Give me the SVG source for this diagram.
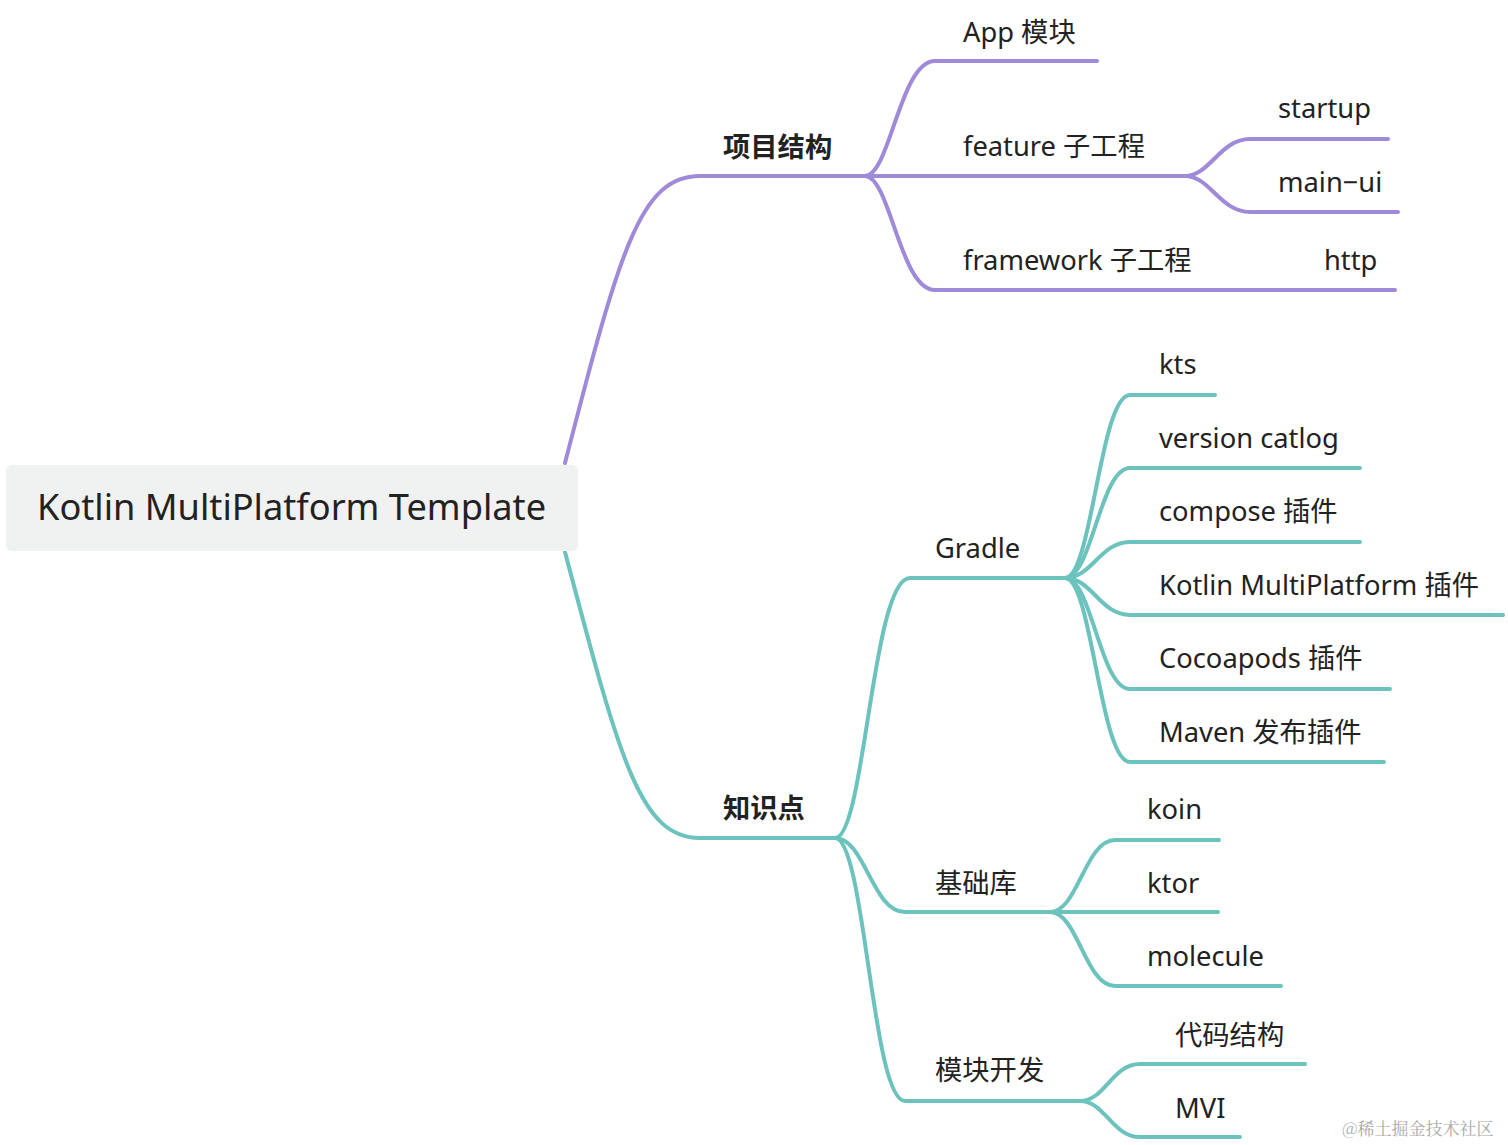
<svg xmlns="http://www.w3.org/2000/svg" width="1508" height="1145" viewBox="0 0 1508 1145">
<style>
.p{fill:none;stroke:#9f8ad9;stroke-width:4;stroke-linecap:round}
.t{fill:none;stroke:#6cc3bd;stroke-width:4;stroke-linecap:round}
text{font-family:"Noto Sans","Noto Sans CJK SC",sans-serif;fill:#222;font-size:27.3px}
.b{font-weight:bold}
</style>
<rect width="1508" height="1145" fill="#fff"/>
<g id="connectors">
<path class="p" d="M565,463 C620,250 640,176 700,176 H865"/>
<path class="p" d="M865,176 C890,176 900,61 935,61 H1097"/>
<path class="p" d="M865,176 H1185"/>
<path class="p" d="M865,176 C890,176 900,290 935,290 H1395"/>
<path class="p" d="M1185,176 C1210,176 1220,139 1250,139 H1388"/>
<path class="p" d="M1185,176 C1210,176 1220,212 1250,212 H1398"/>
<path class="t" d="M565,552 C620,760 640,838 700,838 H835"/>
<path class="t" d="M835,838 C865,838 872,578 910,578 H1065"/>
<path class="t" d="M835,838 C865,838 872,912 905,912 H1050"/>
<path class="t" d="M835,838 C865,838 872,1101 905,1101 H1080"/>
<path class="t" d="M1065,578 C1092,578 1100,395 1130,395 H1215"/>
<path class="t" d="M1065,578 C1092,578 1100,468 1130,468 H1360"/>
<path class="t" d="M1065,578 C1092,578 1100,542 1130,542 H1360"/>
<path class="t" d="M1065,578 C1092,578 1100,615 1130,615 H1503"/>
<path class="t" d="M1065,578 C1092,578 1100,689 1130,689 H1390"/>
<path class="t" d="M1065,578 C1092,578 1100,762 1130,762 H1384"/>
<path class="t" d="M1050,912 C1078,912 1085,840 1115,840 H1219"/>
<path class="t" d="M1050,912 H1218"/>
<path class="t" d="M1050,912 C1078,912 1085,986 1115,986 H1281"/>
<path class="t" d="M1080,1101 C1105,1101 1112,1064 1140,1064 H1305"/>
<path class="t" d="M1080,1101 C1105,1101 1112,1137 1140,1137 H1240"/>
</g>
<g id="root">
<rect x="6" y="465" width="572" height="86" rx="6" fill="#f0f1f1"/>
<text x="37" y="520" style="font-size:36.2px">Kotlin MultiPlatform Template</text>
</g>
<g id="n-xmjg"><text class="b" x="723" y="157">项目结构</text></g>
<g id="n-app"><text x="963" y="42">App 模块</text></g>
<g id="n-feature"><text x="963" y="156">feature 子工程</text></g>
<g id="n-framework"><text x="963" y="270">framework 子工程</text></g>
<g id="n-startup"><text x="1278" y="118">startup</text></g>
<g id="n-mainui"><text x="1278" y="192">main−ui</text></g>
<g id="n-http"><text x="1324" y="270">http</text></g>
<g id="n-zsd"><text class="b" x="723" y="818">知识点</text></g>
<g id="n-gradle"><text x="935" y="558">Gradle</text></g>
<g id="n-kts"><text x="1159" y="374">kts</text></g>
<g id="n-version"><text x="1159" y="448">version catlog</text></g>
<g id="n-compose"><text x="1159" y="521">compose 插件</text></g>
<g id="n-kmp"><text x="1159" y="595">Kotlin MultiPlatform 插件</text></g>
<g id="n-cocoapods"><text x="1159" y="668">Cocoapods 插件</text></g>
<g id="n-maven"><text x="1159" y="742">Maven 发布插件</text></g>
<g id="n-jck"><text x="935" y="893">基础库</text></g>
<g id="n-koin"><text x="1147" y="819">koin</text></g>
<g id="n-ktor"><text x="1147" y="893">ktor</text></g>
<g id="n-molecule"><text x="1147" y="966">molecule</text></g>
<g id="n-mkkf"><text x="935" y="1080">模块开发</text></g>
<g id="n-dmjg"><text x="1175" y="1045">代码结构</text></g>
<g id="n-mvi"><text x="1175" y="1118">MVI</text></g>
<text x="1342" y="1135" style="font-size:17px;fill:#aaa;font-family:'Noto Serif CJK SC','Noto Sans CJK SC',serif">@稀土掘金技术社区</text>
</svg>
